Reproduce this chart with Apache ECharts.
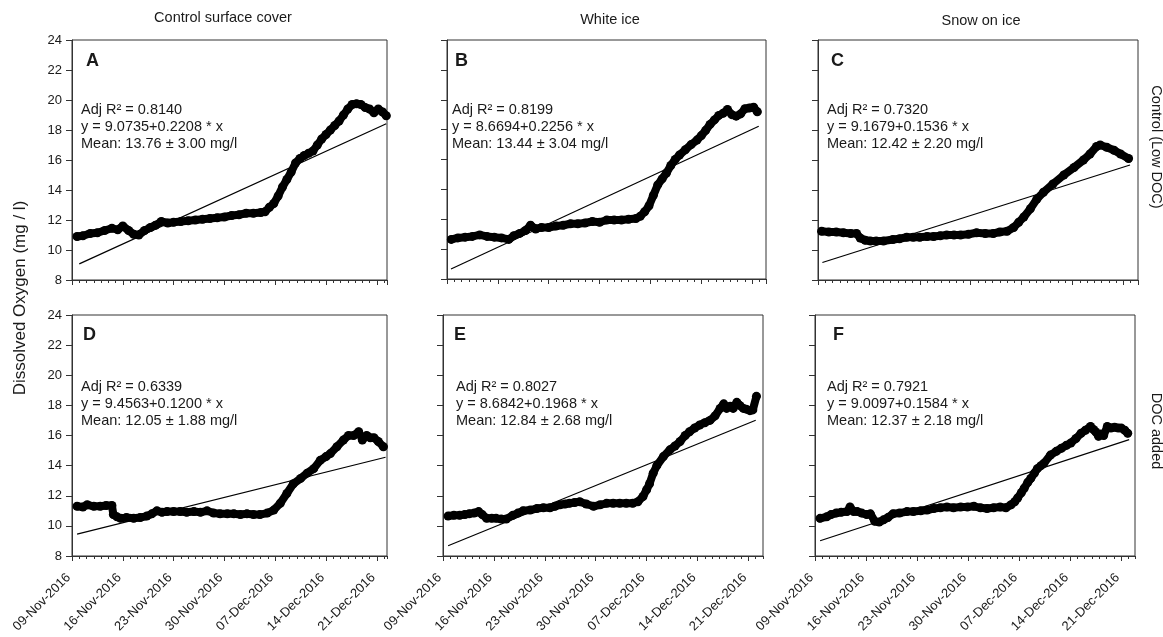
<!DOCTYPE html>
<html>
<head>
<meta charset="utf-8">
<script src="https://cdn.jsdelivr.net/npm/echarts@6/dist/echarts.min.js"></script>
<style>
html,body{margin:0;padding:0;background:#fff;}
#chart{width:1163px;height:637px;}
</style>
</head>
<body>
<div id="chart"></div>
<script>
// ---------- DATA (days since 09-Nov-2016, dissolved oxygen mg/l) ----------
const dayA = [0.7,1.5,2.5,3.5,4.5,5.5,6.3,7.0,7.8,8.5,9.2,10.0,10.8,11.5,12.3,13.2,14.0,15.0,16.0,17.0,18.0,19.0,20.0,21.0,22.0,23.0,24.0,25.0,26.0,26.6,27.2,27.8,28.4,29.0,29.6,30.2,30.8,31.4,32.0,32.6,33.2,33.8,34.4,35.0,35.6,36.2,36.8,37.4,38.0,38.6,39.2,39.8,40.4,41.0,41.6,42.2,42.8,43.3];
const doA  = [10.9,10.95,11.1,11.15,11.3,11.45,11.35,11.6,11.3,11.05,11.0,11.3,11.5,11.65,11.9,11.8,11.85,11.9,11.95,12.0,12.05,12.1,12.15,12.2,12.3,12.35,12.45,12.45,12.5,12.55,12.85,13.1,13.6,14.2,14.7,15.2,15.8,16.1,16.3,16.45,16.6,17.0,17.4,17.7,18.0,18.3,18.6,19.0,19.4,19.7,19.75,19.7,19.5,19.4,19.15,19.4,19.2,18.95];

const dayB = [0.6,1.5,2.5,3.5,4.5,5.5,6.5,7.5,8.5,9.2,10.0,10.8,11.5,12.2,13.0,14.0,15.0,16.0,17.0,18.0,19.0,20.0,21.0,22.0,23.0,24.0,25.0,26.0,26.6,27.2,27.8,28.4,29.0,29.6,30.2,30.8,31.4,32.0,32.8,33.6,34.4,35.0,35.6,36.2,36.8,37.4,38.0,38.6,39.2,39.8,40.4,41.0,41.6,42.2,42.7];
const doB  = [10.65,10.75,10.8,10.85,10.95,10.85,10.8,10.75,10.65,10.9,11.05,11.25,11.6,11.35,11.45,11.45,11.55,11.6,11.7,11.7,11.75,11.85,11.8,11.95,11.95,11.95,12.0,12.05,12.2,12.5,12.9,13.6,14.3,14.7,15.1,15.6,16.0,16.3,16.65,17.0,17.3,17.6,17.95,18.35,18.65,18.95,19.1,19.35,19.0,18.9,19.05,19.4,19.45,19.5,19.2];

const dayC = [0.5,1.5,2.5,3.5,4.5,5.3,5.8,6.5,7.2,8.0,9.0,10.3,11.2,12.2,13.1,14.0,15.0,15.9,16.8,17.7,18.7,19.6,20.7,21.8,23.0,24.1,25.0,26.0,26.9,27.6,28.3,29.2,30.1,31.0,32.3,33.8,35.2,36.5,37.4,38.3,38.8,39.7,40.7,41.6,42.7];
const doC  = [11.25,11.2,11.2,11.15,11.1,11.1,10.8,10.65,10.6,10.6,10.6,10.7,10.75,10.85,10.85,10.85,10.9,10.9,10.95,11.0,11.0,11.0,11.05,11.15,11.1,11.1,11.2,11.25,11.5,11.85,12.2,12.75,13.4,13.85,14.4,15.0,15.5,16.0,16.4,16.9,17.0,16.85,16.65,16.4,16.1];

const dayD = [0.7,1.5,2.1,3.0,3.9,4.7,5.5,5.7,6.2,6.7,7.5,8.5,9.4,10.3,11.0,11.7,12.4,13.1,14.0,14.9,15.8,16.8,17.7,18.6,19.5,20.4,21.4,22.3,23.2,24.1,25.0,25.9,26.9,27.8,28.7,29.6,30.5,31.5,32.4,33.3,34.2,35.0,35.6,36.5,37.4,38.1,38.8,39.5,40.0,40.6,41.1,41.6,42.2,42.9];
const doD  = [11.3,11.25,11.4,11.3,11.3,11.35,11.35,10.75,10.6,10.5,10.55,10.5,10.55,10.65,10.8,11.0,10.9,10.95,10.95,10.95,10.9,10.95,10.9,11.0,10.85,10.8,10.8,10.8,10.75,10.8,10.75,10.75,10.85,11.05,11.5,12.15,12.8,13.15,13.5,13.8,14.35,14.6,14.8,15.25,15.7,16.0,16.0,16.25,15.7,16.0,15.85,15.85,15.6,15.25];

const dayE = [0.7,1.5,2.3,3.0,3.6,4.3,4.9,5.4,6.0,6.7,7.3,8.0,8.7,9.6,10.3,11.0,12.0,12.9,13.8,14.7,15.4,16.1,16.8,17.4,18.1,18.8,19.7,20.7,21.6,22.5,23.4,24.3,25.2,26.1,26.8,27.5,28.0,28.4,28.9,29.4,30.3,31.2,31.9,32.6,33.3,33.9,34.6,35.3,36.0,36.7,37.4,38.1,38.6,39.0,39.5,39.9,40.4,40.8,41.3,41.7,42.2,42.6,43.1];
const doE  = [10.65,10.7,10.7,10.75,10.8,10.85,10.95,10.75,10.5,10.5,10.5,10.45,10.45,10.7,10.85,11.0,11.05,11.15,11.2,11.2,11.3,11.4,11.45,11.5,11.55,11.6,11.45,11.3,11.4,11.5,11.5,11.5,11.5,11.5,11.6,11.95,12.4,12.8,13.5,14.0,14.6,15.05,15.3,15.6,16.0,16.25,16.5,16.7,16.85,17.0,17.3,17.8,18.1,17.8,17.95,17.8,18.2,18.0,17.8,17.75,17.65,17.7,18.6];

const dayF = [0.7,1.6,2.2,2.9,3.6,4.4,4.8,5.3,5.8,6.4,7.1,7.6,8.2,8.8,9.4,10.0,10.7,11.6,12.6,13.5,14.5,15.4,16.3,17.2,18.1,19.0,20.0,20.9,21.8,22.7,23.6,24.5,25.4,26.2,26.9,27.4,27.8,28.3,28.7,29.2,29.6,30.1,30.5,31.0,31.4,32.3,33.1,33.8,34.5,35.1,35.8,36.5,37.1,37.8,38.2,38.5,38.9,39.2,39.6,40.1,40.6,41.1,41.6,42.0,42.5,42.9];
const doF  = [10.5,10.6,10.75,10.85,10.9,10.95,11.25,10.95,10.95,10.85,10.75,10.8,10.3,10.25,10.4,10.55,10.8,10.85,10.95,10.95,11.0,11.05,11.15,11.2,11.25,11.2,11.25,11.25,11.3,11.2,11.15,11.2,11.25,11.2,11.4,11.6,11.85,12.2,12.5,12.9,13.15,13.5,13.8,14.0,14.15,14.7,14.95,15.15,15.35,15.5,15.8,16.15,16.35,16.6,16.4,16.25,15.95,16.1,16.0,16.6,16.5,16.55,16.5,16.5,16.35,16.15];

// regression fits (from panel annotations)
const panelLetters = ['A','B','C','D','E','F'];
const adjR2       = ['0.8140','0.8199','0.7320','0.6339','0.8027','0.7921'];
const intercepts  = [9.0735, 8.6694, 9.1679, 9.4563, 8.6842, 9.0097];
const slopes      = [0.2208, 0.2256, 0.1536, 0.1200, 0.1968, 0.1584];
const meanTexts   = ['13.76 ± 3.00','13.44 ± 3.04','12.42 ± 2.20','12.05 ± 1.88','12.84 ± 2.68','12.37 ± 2.18'];
const fitStart    = [1.0, 0.55, 0.6, 0.7, 0.7, 0.7];
const fitEnd      = [43.3, 42.9, 42.9, 43.2, 43.0, 43.1];

const columnTitles = ['Control surface cover','White ice','Snow on ice'];
const rowLabels    = ['Control (Low DOC)','DOC added'];
const yAxisTitle   = 'Dissolved Oxygen (mg / l)';
const xStartDate   = '2016-11-09';
const monthNames   = ['Jan','Feb','Mar','Apr','May','Jun','Jul','Aug','Sep','Oct','Nov','Dec'];

// ---------- LAYOUT ----------
const FONT = "'Liberation Sans', Arial, sans-serif";
const TXT = '#1a1a1a';
const AXC = '#333';
const grids = [
  {left:72,  top:40,  width:315, height:240},
  {left:447, top:40,  width:319, height:239},
  {left:818, top:40,  width:320, height:240},
  {left:72,  top:315, width:315, height:241},
  {left:443, top:315, width:320, height:241},
  {left:815, top:315, width:320, height:241}
];
const xMax = [43.4, 43.9, 44.0, 43.4, 44.0, 43.9];
const letterPos = [[86,61],[455,61],[831,61],[83,335],[454,335],[833,335]];
const annoPos   = [[81,110],[452,110],[827,110],[81,387],[456,387],[827,387]];

const days = [dayA, dayB, dayC, dayD, dayE, dayF];
const vals = [doA, doB, doC, doD, doE, doF];

const start = new Date(xStartDate + 'T00:00:00Z').getTime();
function fmtDay(v) {
  if (Math.abs(v / 7 - Math.round(v / 7)) > 1e-6) return '';
  const d = new Date(start + Math.round(v) * 86400000);
  const dd = String(d.getUTCDate()).padStart(2, '0');
  return dd + '-' + monthNames[d.getUTCMonth()] + '-' + d.getUTCFullYear();
}

const xAxes = [], yAxes = [], series = [], graphics = [];
grids.forEach((g, i) => {
  const row = i < 3 ? 0 : 1, col = i % 3;
  xAxes.push({
    type: 'value', gridIndex: i, position: 'bottom', min: 0, max: xMax[i], interval: 7,
    axisLine: {show: true, onZero: false, lineStyle: {color: AXC, width: 1}},
    axisTick: {show: true, length: 5, lineStyle: {color: AXC}},
    splitLine: {show: false},
    axisLabel: {show: row === 1, rotate: 45, fontSize: 13, color: TXT, fontFamily: FONT,
      margin: 16, padding: [0, 5, 0, 0], formatter: fmtDay, showMaxLabel: false, showMinLabel: true}
  });
  xAxes.push({
    type: 'value', gridIndex: i, position: 'bottom', min: 0, max: xMax[i], interval: 1,
    axisLine: {show: false, onZero: false},
    axisTick: {show: true, length: 3, lineStyle: {color: AXC}},
    splitLine: {show: false},
    axisLabel: {show: false}
  });
  yAxes.push({
    type: 'value', gridIndex: i, min: 8, max: 24, interval: 2,
    axisLine: {show: true, onZero: false, lineStyle: {color: AXC}},
    axisTick: {show: true, length: 6, lineStyle: {color: AXC}},
    splitLine: {show: false},
    axisLabel: {show: col === 0, fontSize: 13, color: TXT, fontFamily: FONT, margin: 10}
  });
  series.push({
    type: 'line', xAxisIndex: 2 * i, yAxisIndex: i,
    data: days[i].map((d, k) => [d, vals[i][k]]),
    lineStyle: {color: '#000', width: 8, cap: 'round', join: 'round'},
    itemStyle: {color: '#000'},
    symbol: 'circle', symbolSize: 9, showAllSymbol: true,
    silent: true, animation: false, z: 2
  });
  const x0 = fitStart[i], x1 = fitEnd[i];
  series.push({
    type: 'line', xAxisIndex: 2 * i, yAxisIndex: i,
    data: [[x0, intercepts[i]], [x1, intercepts[i] + slopes[i] * (x1 - x0)]],
    lineStyle: {color: '#000', width: 1.2},
    symbol: 'none', silent: true, animation: false, z: 3
  });
  graphics.push({
    type: 'text', x: letterPos[i][0], y: letterPos[i][1],
    style: {text: panelLetters[i], fontSize: 18, fontWeight: 'bold', fontFamily: FONT, fill: TXT,
      textAlign: 'left', textVerticalAlign: 'middle'}
  });
  const lines = [
    'Adj R² = ' + adjR2[i],
    'y = ' + intercepts[i].toFixed(4) + '+' + slopes[i].toFixed(4) + ' * x',
    'Mean: ' + meanTexts[i] + ' mg/l'
  ];
  lines.forEach((t, k) => {
    graphics.push({
      type: 'text', x: annoPos[i][0], y: annoPos[i][1] + k * 17,
      style: {text: t, fontSize: 14.5, fontFamily: FONT, fill: TXT,
        textAlign: 'left', textVerticalAlign: 'middle'}
    });
  });
});

const titleX = [223, 610, 981];
const titleY = [18, 20, 21];
columnTitles.forEach((t, c) => {
  graphics.push({type: 'text', x: titleX[c], y: titleY[c],
    style: {text: t, fontSize: 14.5, fontFamily: FONT, fill: TXT, textAlign: 'center', textVerticalAlign: 'middle'}});
});
const rowY = [147, 431];
rowLabels.forEach((t, r) => {
  graphics.push({type: 'text', x: 1156, y: rowY[r], rotation: -Math.PI / 2,
    style: {text: t, fontSize: 14.5, fontFamily: FONT, fill: TXT, textAlign: 'center', textVerticalAlign: 'middle'}});
});
graphics.push({type: 'text', x: 20, y: 298, rotation: Math.PI / 2,
  style: {text: yAxisTitle, fontSize: 17, fontFamily: FONT, fill: TXT, textAlign: 'center', textVerticalAlign: 'middle'}});

const chart = echarts.init(document.getElementById('chart'), null, {renderer: 'canvas'});
chart.setOption({
  backgroundColor: '#fff',
  animation: false,
  grid: grids.map(g => Object.assign({show: true, borderColor: AXC, borderWidth: 1, backgroundColor: 'transparent', containLabel: false}, g)),
  xAxis: xAxes,
  yAxis: yAxes,
  series: series,
  graphic: graphics
});
</script>
</body>
</html>
